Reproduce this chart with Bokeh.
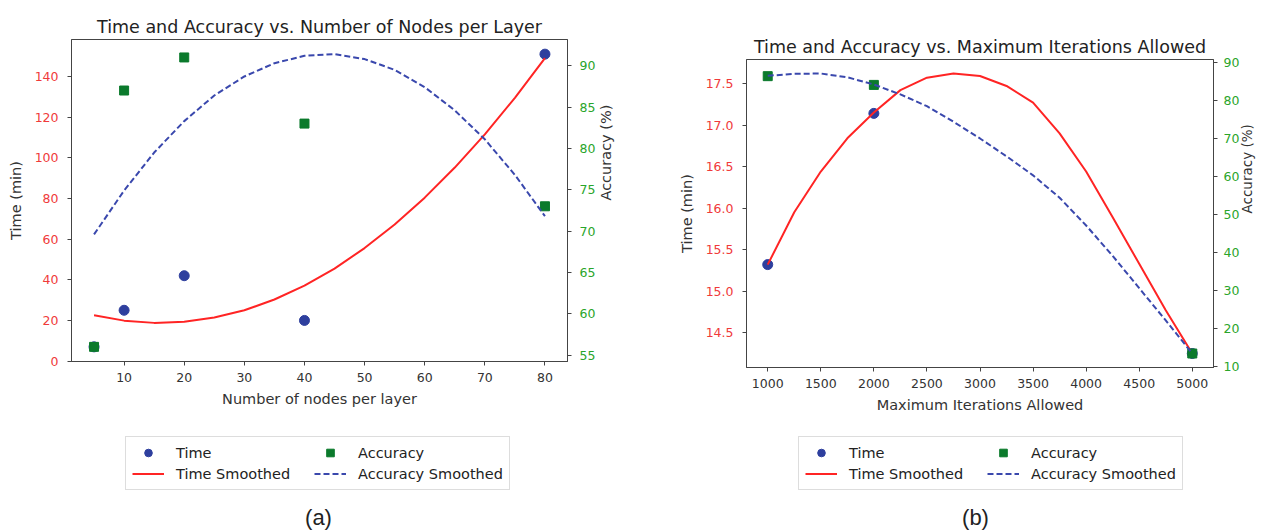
import math
from bokeh.plotting import figure
from bokeh.models import (Range1d, LinearAxis, FixedTicker, Legend, LegendItem,
                          Label, NumeralTickFormatter)
from bokeh.layouts import row, column
from bokeh.embed import file_html
from bokeh.resources import INLINE

# ---------------- data: panel (a) ----------------
nodes = [5, 10, 20, 40, 80]
time_a = [7, 25, 42, 20, 151]
acc_a = [56, 87, 91, 83, 73]
smooth_x_a = [5, 10, 15, 20, 25, 30, 35, 40, 45, 50, 55, 60, 65, 70, 75, 80]
time_smooth_a = [22.6, 19.9, 18.8, 19.3, 21.4, 25.0, 30.3, 37.1, 45.5, 55.6,
                 67.2, 80.4, 95.2, 111.5, 129.5, 149.0]
acc_smooth_a = [69.6, 74.9, 79.5, 83.3, 86.4, 88.7, 90.3, 91.2, 91.4, 90.8,
                89.5, 87.4, 84.6, 81.1, 76.8, 71.8]
xticks_a = [10, 20, 30, 40, 50, 60, 70, 80]
tticks_a = [0, 20, 40, 60, 80, 100, 120, 140]
aticks_a = [55, 60, 65, 70, 75, 80, 85, 90]

# ---------------- data: panel (b) ----------------
iters = [1000, 2000, 5000]
time_b = [15.32, 17.14, 14.25]
acc_b = [86.3, 84.0, 13.3]
smooth_x_b = [1000, 1250, 1500, 1750, 2000, 2250, 2500, 2750, 3000, 3250,
              3500, 3750, 4000, 4250, 4500, 4750, 5000]
time_smooth_b = [15.32, 15.95, 16.44, 16.84, 17.15, 17.42, 17.57, 17.62, 17.59,
                 17.47, 17.27, 16.90, 16.44, 15.89, 15.33, 14.77, 14.25]
acc_smooth_b = [86.4, 86.9, 87.0, 86.0, 84.1, 81.5, 78.4, 74.3, 69.9, 65.2,
                60.2, 54.3, 47.0, 39.0, 30.5, 22.0, 13.3]
xticks_b = [1000, 1500, 2000, 2500, 3000, 3500, 4000, 4500, 5000]
tticks_b = [14.5, 15.0, 15.5, 16.0, 16.5, 17.0, 17.5]
aticks_b = [10, 20, 30, 40, 50, 60, 70, 80, 90]

FONT = "DejaVu Sans"
RED = "#ff2424"
RED_TXT = "#f03a3a"
BLUE_DOT = "#2e3f9e"
BLUE_LINE = "#3a48ad"
GREEN_SQ = "#0b7a2c"
GREEN_TXT = "#2aa52a"
DARK = "#444444"
W = 633
PLOT_H = 420
LEG_H = 110


def padded(vals, frac=0.05):
    lo, hi = min(vals), max(vals)
    m = (hi - lo) * frac
    return Range1d(lo - m, hi + m)


def style_axis(ax, color, ticks, standoff):
    ax.ticker = FixedTicker(ticks=ticks)
    ax.major_label_text_color = color
    ax.major_label_text_font = FONT
    ax.major_label_text_font_size = "12.5px"
    ax.axis_label_text_font = FONT
    ax.axis_label_text_font_size = "14.5px"
    ax.axis_label_text_font_style = "normal"
    ax.axis_label_text_color = "#333333"
    ax.axis_line_color = DARK
    ax.major_tick_line_color = DARK
    ax.major_tick_out = 4
    ax.major_tick_in = 0
    ax.minor_tick_line_color = None
    ax.major_label_standoff = standoff


def add_series(p, x, t, a, sx, st, sa):
    r_t = p.scatter(x, t, marker="circle", size=10, color=BLUE_DOT)
    r_ts = p.line(sx, st, color=RED, line_width=2)
    r_a = p.scatter(x, a, marker="square", size=9, color=GREEN_SQ, y_range_name="acc")
    r_as = p.line(sx, sa, color=BLUE_LINE, line_width=2, line_dash="6 3",
                  y_range_name="acc")
    return r_t, r_ts, r_a, r_as


def make_plot(title, xlabel, x, t, a, sx, st, sa, xt, tt, at, borders,
              right_tick_standoff, right_standoff, right_label_size, tfmt=None):
    bl, br, bt, bb = borders
    p = figure(width=W, height=PLOT_H, output_backend="svg", toolbar_location=None,
               x_range=padded(x), y_range=padded(t + st),
               min_border_left=bl, min_border_right=br,
               min_border_top=bt, min_border_bottom=bb)
    p.extra_y_ranges = {"acc": padded(a + sa)}
    p.xgrid.visible = False
    p.ygrid.visible = False
    p.outline_line_color = DARK
    p.outline_line_width = 1

    p.title.text = title
    p.title.align = "center"
    p.title.text_font = FONT
    p.title.text_font_size = "17.5px"
    p.title.text_font_style = "normal"
    p.title.text_color = "#222222"
    p.title.standoff = 6

    style_axis(p.xaxis[0], "#333333", xt, 7)
    p.xaxis[0].axis_label = xlabel
    p.xaxis[0].axis_label_standoff = 6
    style_axis(p.yaxis[0], RED_TXT, tt, 9)
    p.yaxis[0].axis_label = "Time (min)"
    p.yaxis[0].axis_label_standoff = 8
    if tfmt:
        p.yaxis[0].formatter = NumeralTickFormatter(format=tfmt)

    ax2 = LinearAxis(y_range_name="acc")
    style_axis(ax2, GREEN_TXT, at, right_tick_standoff)
    ax2.axis_label = "Accuracy (%)"
    ax2.axis_label_standoff = right_standoff
    ax2.axis_label_text_font_size = right_label_size
    ax2.axis_label_orientation = math.pi / 2
    p.add_layout(ax2, "right")

    add_series(p, x, t, a, sx, st, sa)
    return p


def make_legend(caption, leg_x, cap_x):
    q = figure(width=W, height=LEG_H, output_backend="svg", toolbar_location=None,
               x_range=Range1d(0, 1), y_range=Range1d(0, 1),
               x_axis_location=None, y_axis_location=None,
               min_border=0, min_border_left=0, min_border_right=0,
               min_border_top=0, min_border_bottom=0)
    q.extra_y_ranges = {"acc": Range1d(0, 1)}
    q.xgrid.visible = False
    q.ygrid.visible = False
    q.outline_line_color = None
    # off-screen sample marks so the legend can draw its swatches
    r_t, r_ts, r_a, r_as = add_series(q, [-5], [-5], [-5], [-6, -5], [-5, -5], [-5, -5])
    legend = Legend(items=[LegendItem(label="Time", renderers=[r_t]),
                           LegendItem(label="Time Smoothed", renderers=[r_ts]),
                           LegendItem(label="Accuracy", renderers=[r_a]),
                           LegendItem(label="Accuracy Smoothed", renderers=[r_as])],
                    ncols=2, location=(leg_x, 40))
    legend.label_text_font = FONT
    legend.label_text_font_size = "14.5px"
    legend.label_text_color = "#222222"
    legend.glyph_width = 32
    legend.glyph_height = 19
    legend.label_height = 19
    legend.label_width = 136
    legend.label_standoff = 12
    legend.padding = 6
    legend.spacing = 2
    legend.margin = 0
    legend.border_line_color = "#bbbbbb"
    legend.border_line_width = 1
    legend.background_fill_color = "white"
    legend.background_fill_alpha = 1.0
    q.add_layout(legend, "center")
    q.add_layout(Label(x=cap_x, y=13.5, x_units="screen", y_units="screen",
                       text=caption, text_align="center", text_baseline="middle",
                       text_font="Liberation Sans", text_font_size="22px",
                       text_color="#222222"))
    return q


pa = make_plot("Time and Accuracy vs. Number of Nodes per Layer",
               "Number of nodes per layer",
               nodes, time_a, acc_a, smooth_x_a, time_smooth_a, acc_smooth_a,
               xticks_a, tticks_a, aticks_a, (71, 66, 39, 59), 8, 8, "14.5px")

pb = make_plot("Time and Accuracy vs. Maximum Iterations Allowed",
               "Maximum Iterations Allowed",
               iters, time_b, acc_b, smooth_x_b, time_smooth_b, acc_smooth_b,
               xticks_b, tticks_b, aticks_b, (113, 46, 59, 53), 6, 5, "13.5px",
               tfmt="0.0")

la = make_legend("(a)", 54, 247)
lb = make_legend("(b)", 52, 229)

layout = row(column(pa, la), column(pb, lb))
open("out.html", "w").write(file_html(layout, INLINE))
